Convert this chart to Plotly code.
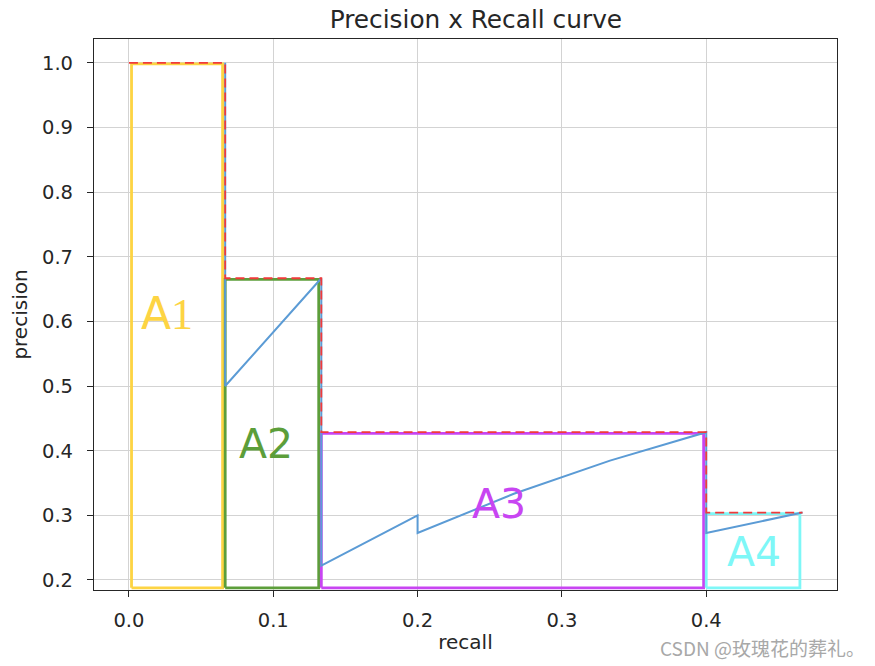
import plotly.graph_objects as go

# ---- data ----
recall = [0.0667, 0.0667, 0.1333, 0.1333, 0.2, 0.2, 0.2667, 0.3333, 0.4, 0.4, 0.4667]
precision = [1.0, 0.5, 0.6667, 0.2222, 0.3, 0.2727, 0.3333, 0.3846, 0.4286, 0.2727, 0.3043]

# interpolated steps (recall start, recall end, precision)
step_start = [0.0, 0.0667, 0.1333, 0.4]
step_end = [0.0667, 0.1333, 0.4, 0.4667]
step_prec = [1.0, 0.6667, 0.4286, 0.3043]

area_names = ["A<span style='font-family:Liberation Serif'>1</span>", "A2", "A3", "A4"]
area_colors = ["#fdd443", "#5c9e3a", "#c845f2", "#7ef7f7"]
area_font_size = [44, 41, 41, 41]
label_x = [0.0267, 0.0953, 0.2565, 0.4333]
label_y = [0.612, 0.411, 0.318, 0.243]
area_bottom = 0.1878

FONT = "DejaVu Sans, Verdana, sans-serif"
TXT = "#262626"

# body margin removed via post_script, so page pixels == figure pixels
OFF = 0
W, H = 875, 666
ML, MR, MT, MB = 93.5 - OFF, W - 836.7 + OFF, 38.5 - OFF, H - 590 + OFF
PW, PH = W - ML - MR, H - MT - MB


def paper_xy(px, py):
    """page pixel -> paper coords"""
    fx, fy = px - OFF, py - OFF
    return (fx - ML) / PW, (H - MB - fy) / PH


fig = go.Figure()

# area rectangles
inset = 0.0018
for i in range(4):
    x0 = step_start[i] + (inset if i == 0 else 0)
    x1, p = step_end[i] - inset, step_prec[i] - inset
    fig.add_trace(go.Scatter(
        x=[x0, x0, x1, x1, x0],
        y=[area_bottom, p, p, area_bottom, area_bottom],
        mode="lines", line=dict(color=area_colors[i], width=2.8),
        hoverinfo="skip", showlegend=False))

# precision curve
fig.add_trace(go.Scatter(x=recall, y=precision, mode="lines",
                         line=dict(color="#5b9bd5", width=2),
                         showlegend=False))

# interpolated precision (red dashed)
rx, ry = [], []
for s, e, p in zip(step_start, step_end, step_prec):
    rx += [s, e]
    ry += [p, p]
fig.add_trace(go.Scatter(x=rx, y=ry, mode="lines",
                         line=dict(color="#f03a3a", width=1.8, dash="9px,5px"),
                         showlegend=False))

# area labels
for i in range(4):
    fig.add_annotation(x=label_x[i], y=label_y[i], text=area_names[i],
                       showarrow=False, xref="x", yref="y",
                       font=dict(family=FONT, size=area_font_size[i], color=area_colors[i]))

# watermark
wx, wy = paper_xy(867, 648)
fig.add_annotation(x=wx, y=wy, xref="paper", yref="paper", text="CSDN @玫瑰花的葬礼。",
                   showarrow=False, xanchor="right", yanchor="middle",
                   font=dict(family="Noto Sans CJK SC", size=19, color="#a8a8a8"))

fig.update_layout(
    width=W, height=H,
    margin=dict(l=ML, r=MR, t=MT, b=MB, autoexpand=False),
    paper_bgcolor="white", plot_bgcolor="white",
    font=dict(family=FONT, size=20, color=TXT),
    title=dict(text="Precision x Recall curve", x=paper_xy(475.5, 0)[0], xref="paper",
               xanchor="center", y=1 - (19 - OFF) / H, yanchor="middle",
               font=dict(size=24.8, color=TXT)),
    showlegend=False,
)
fig.update_xaxes(range=[-0.0242, 0.4906], tickvals=[0.0, 0.1, 0.2, 0.3, 0.4],
                 ticktext=["0.0", "0.1", "0.2", "0.3", "0.4"],
                 showgrid=True, gridcolor="#d3d3d3", gridwidth=1, zeroline=False,
                 showline=True, linecolor="#262626", linewidth=1.2, mirror=True,
                 ticks="outside", ticklen=6, tickcolor="#262626", ticklabelstandoff=6,
                 title=dict(text="recall", standoff=4, font=dict(size=20)),
                 tickfont=dict(size=19.5))
fig.update_yaxes(range=[0.1845, 1.0368], tickvals=[0.2, 0.3, 0.4, 0.5, 0.6, 0.7, 0.8, 0.9, 1.0],
                 ticktext=["0.2", "0.3", "0.4", "0.5", "0.6", "0.7", "0.8", "0.9", "1.0"],
                 showgrid=True, gridcolor="#d3d3d3", gridwidth=1, zeroline=False,
                 showline=True, linecolor="#262626", linewidth=1.2, mirror=True,
                 ticks="outside", ticklen=6, tickcolor="#262626", ticklabelstandoff=10,
                 title=dict(text="precision", standoff=8, font=dict(size=20)),
                 tickfont=dict(size=19.5))

fig.write_html("out.html", config={"displayModeBar": False},
               post_script="document.body.style.margin='0';document.body.style.padding='0';")
